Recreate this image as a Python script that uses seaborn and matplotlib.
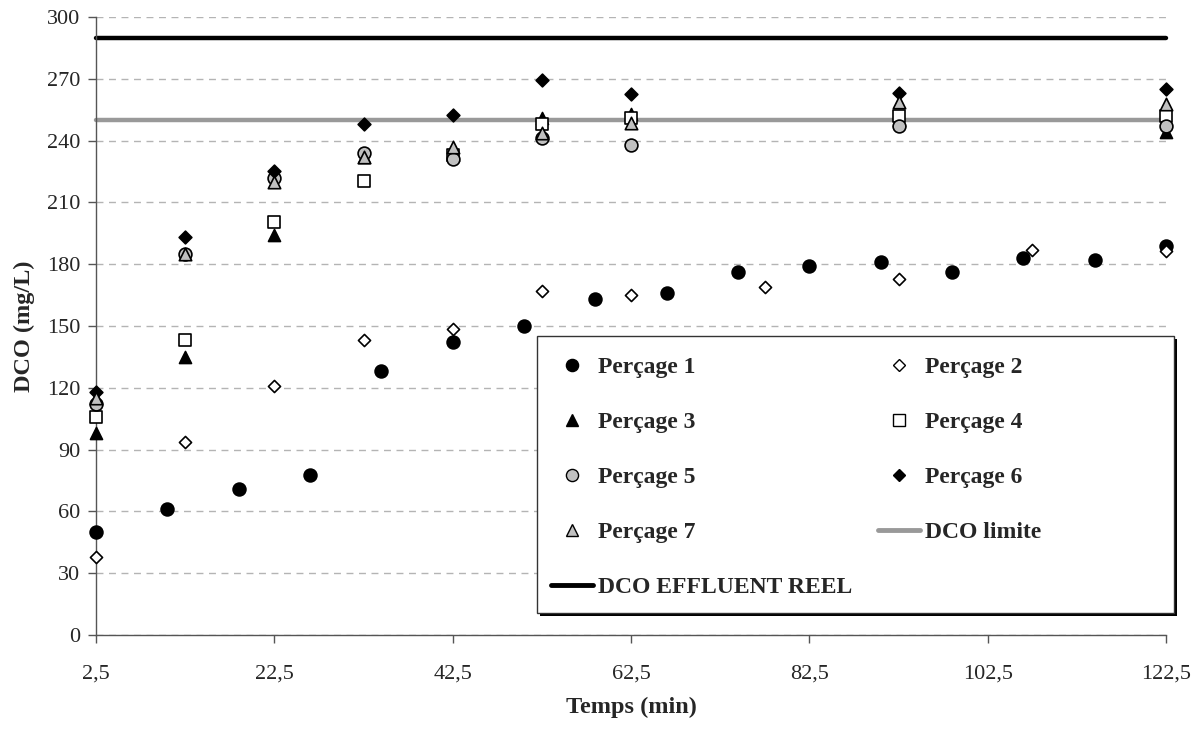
import numpy as np
import pandas as pd
import seaborn as sns
import matplotlib.pyplot as plt
from matplotlib.lines import Line2D
from matplotlib.patches import Rectangle

sns.set_theme(style="white")
plt.rcParams['font.family'] = ['Liberation Serif', 'DejaVu Serif']

# Data
t_p1 = [2.5, 10.5, 18.5, 26.5, 34.5, 42.5, 50.5, 58.5, 66.5, 74.5, 82.5, 90.5, 98.5, 106.5, 114.5, 122.5]
dco_p1 = [50, 61, 71, 77.5, 128, 142, 150, 163, 166, 176, 179, 181, 176, 183, 182, 189]

t_p2 = [2.5, 12.5, 22.5, 32.5, 42.5, 52.5, 62.5, 77.5, 92.5, 107.5, 122.5]
dco_p2 = [38, 93.5, 121, 143, 148.5, 167, 165, 169, 173, 187, 186.5]

t_common = [2.5, 12.5, 22.5, 32.5, 42.5, 52.5, 62.5, 92.5, 122.5]
dco_p3 = [98, 135, 194, 232, 233, 251, 253, 250, 244]
dco_p4 = [106, 143, 200.5, 220.5, 233, 248, 251, 252, 252]
dco_p5 = [112, 185, 222, 234, 231, 241, 238, 247, 247]
dco_p6 = [118, 193, 225, 248, 252.5, 269.5, 262.5, 263, 265]
dco_p7 = [115, 185, 220, 232, 237, 243.5, 248.5, 258.5, 257.5]

t_lines = [2.5, 122.5]
dco_limite = [250, 250]
dco_effluent = [290, 290]

x_ticks = [2.5, 22.5, 42.5, 62.5, 82.5, 102.5, 122.5]
y_ticks = list(range(0, 301, 30))

series = [
    # label, t, values, marker, face, size
    ("Perçage 1", t_p1, dco_p1, "o", "black", 85),
    ("Perçage 2", t_p2, dco_p2, "D", "white", 38),
    ("Perçage 3", t_common, dco_p3, "^", "black", 75),
    ("Perçage 4", t_common, dco_p4, "s", "white", 85),
    ("Perçage 5", t_common, dco_p5, "o", "#c0c0c0", 85),
    ("Perçage 6", t_common, dco_p6, "D", "black", 42),
    ("Perçage 7", t_common, dco_p7, "^", "#c0c0c0", 80),
]

fig = plt.figure(figsize=(12.02, 7.29), dpi=100)
ax = fig.add_axes([0.0799, 0.129, 0.8902, 0.8478])

# reference lines
sns.lineplot(x=t_lines, y=dco_effluent, ax=ax, color="black", linewidth=3.2,
             zorder=2, clip_on=False)
sns.lineplot(x=t_lines, y=dco_limite, ax=ax, color="#999999", linewidth=3.2,
             zorder=2, clip_on=False)

handles = {}
for label, t, v, m, fc, s in series:
    df = pd.DataFrame({"t": t, "dco": v})
    sns.scatterplot(data=df, x="t", y="dco", ax=ax, marker=m, color=fc,
                    edgecolor="black", linewidth=1.2, s=s, zorder=3, clip_on=False)
    handles[label] = Line2D([], [], linestyle="none", marker=m, markerfacecolor=fc,
                            markeredgecolor="black", markeredgewidth=1.0,
                            markersize=np.sqrt(s) * 0.95)
handles["DCO limite"] = Line2D([], [], color="#999999", linewidth=3.5)
handles["DCO EFFLUENT REEL"] = Line2D([], [], color="black", linewidth=3.5)

ax.set_xlim(2.5, 122.5)
ax.set_ylim(0, 300)
ax.set_xticks(x_ticks)
ax.set_xticklabels([str(x).replace(".", ",") for x in x_ticks])
ax.set_yticks(y_ticks)
ax.tick_params(axis="both", direction="out", length=5.5, width=1, color="#555555",
               labelsize=16, bottom=True, left=True)
ax.tick_params(axis="x", pad=16)
ax.tick_params(axis="y", pad=6)
ax.yaxis.grid(True, linestyle=(0, (5, 4)), color="#b4b4b4", linewidth=1)
ax.xaxis.grid(False)
for side in ["top", "right"]:
    ax.spines[side].set_visible(False)
for side in ["left", "bottom"]:
    ax.spines[side].set_color("#555555")
    ax.spines[side].set_linewidth(1)

ax.set_xlabel("Temps (min)", fontsize=17.5, fontweight="bold")
ax.set_ylabel("DCO (mg/L)", fontsize=17.5, fontweight="bold")
ax.xaxis.set_label_coords(0.5, -0.100)
ax.yaxis.set_label_coords(-0.057, 0.5)

# legend frame with a hard black shadow
box = (0.4121, 0.0356, 0.5954, 0.4482)
sx, sy = 3 / 1070, 3 / 618
ax.add_patch(Rectangle((box[0] + sx, box[1] - sy), box[2], box[3], transform=ax.transAxes,
                       facecolor="black", edgecolor="none", zorder=5, clip_on=False))
ax.add_patch(Rectangle((box[0], box[1]), box[2], box[3], transform=ax.transAxes,
                       facecolor="white", edgecolor="#333333", linewidth=1, zorder=5.1,
                       clip_on=False))

order = ["Perçage 1", "Perçage 3", "Perçage 5", "Perçage 7", "DCO EFFLUENT REEL",
         "Perçage 2", "Perçage 4", "Perçage 6", "DCO limite"]
leg = ax.legend([handles[k] for k in order], order, ncol=2, loc="upper left",
                bbox_to_anchor=(0.4252, 0.4506), borderaxespad=0, borderpad=0,
                prop={"weight": "bold", "size": 17}, frameon=False,
                labelspacing=1.42, handlelength=1.78, handletextpad=0.21,
                columnspacing=1.1)
leg.set_zorder(6)

fig.savefig("out.png", dpi=100)
